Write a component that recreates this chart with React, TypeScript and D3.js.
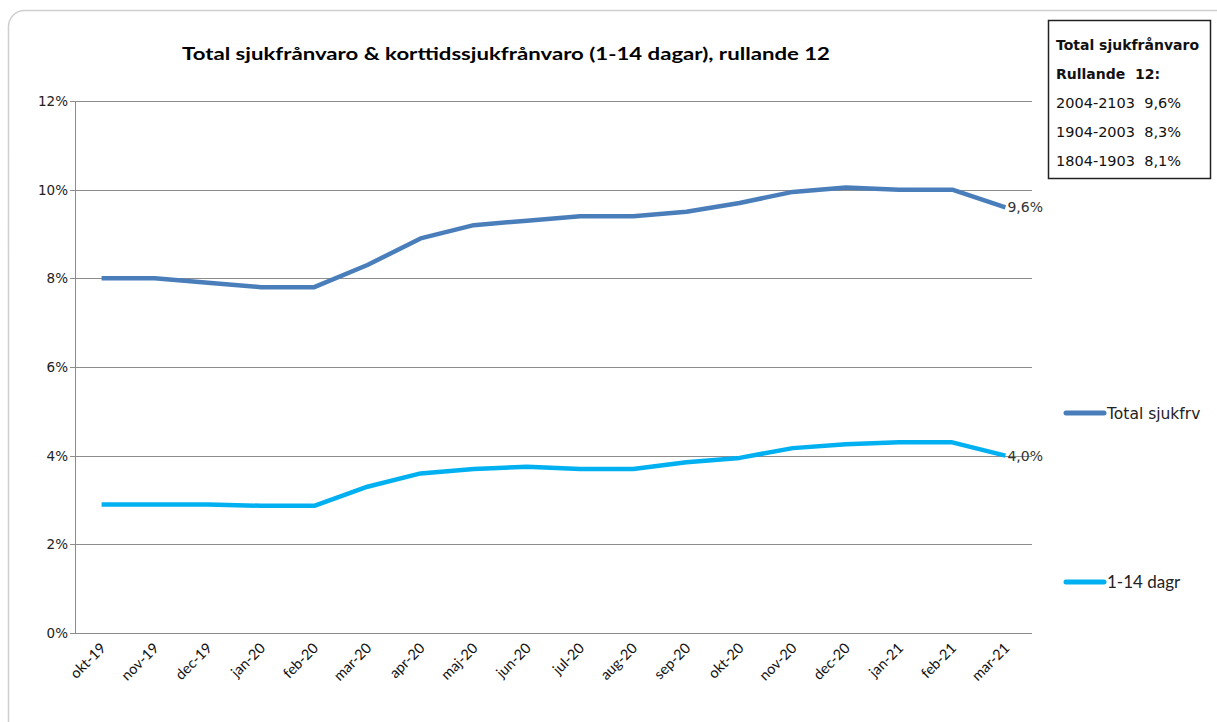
import React from "react";
import * as d3 from "d3";

const categories = ["okt-19","nov-19","dec-19","jan-20","feb-20","mar-20","apr-20","maj-20","jun-20","jul-20","aug-20","sep-20","okt-20","nov-20","dec-20","jan-21","feb-21","mar-21"];
const totalValues = [8.0,8.0,7.9,7.8,7.8,8.3,8.9,9.2,9.3,9.4,9.4,9.5,9.7,9.95,10.05,10.0,10.0,9.6];
const shortValues = [2.9,2.9,2.9,2.87,2.87,3.3,3.6,3.7,3.75,3.7,3.7,3.85,3.95,4.17,4.26,4.3,4.3,4.0];
const yTicks = [0,2,4,6,8,10,12];
const seriesNames = ["Total sjukfrv","1-14 dagr"];
const boxLines = ["Total sjukfrånvaro","Rullande  12:","2004-2103  9,6%","1904-2003  8,3%","1804-1903  8,1%"];
const title = "Total sjukfrånvaro & korttidssjukfrånvaro (1-14 dagar), rullande 12";

const W = 1217, H = 722;
const plot = { left: 75, right: 1032, top: 101, bottom: 633 };
const c1 = "#4A7EBB";
const c2 = "#00B0F0";

export default function App() {
  const x = d3.scaleBand<string>().domain(categories).range([plot.left, plot.right]);
  const y = d3.scaleLinear().domain([0, 12]).range([plot.bottom, plot.top]);
  const cx = (c: string) => (x(c) as number) + x.bandwidth() / 2;
  const line = d3.line<number>().x((_, i) => cx(categories[i])).y(v => y(v));
  const lastX = cx(categories[categories.length - 1]);
  const fmt = (v: number) => v.toFixed(1).replace(".", ",") + "%";
  const verd = "'DejaVu Sans', Verdana, sans-serif";
  const cal = "Lato, 'Open Sans', sans-serif";
  return (
    <svg width={W} height={H} style={{ position: "absolute", left: 0, top: 0, background: "#fff" }}>
      <rect x={8.5} y={10.5} width={1240} height={760} rx={16} fill="#fff" stroke="#cfcfcf" strokeWidth={1.5} />
      <text x={506} y={60} textAnchor="middle" fontFamily={cal} fontWeight="bold" fontSize={16.5} fill="#000" textLength={648} lengthAdjust="spacingAndGlyphs">{title}</text>
      {yTicks.map(t => (
        <g key={t}>
          <line x1={plot.left - 5} x2={plot.right} y1={Math.round(y(t)) + 0.5} y2={Math.round(y(t)) + 0.5} stroke="#8c8c8c" strokeWidth={1} />
          <text x={68} y={y(t) + 5} textAnchor="end" fontFamily={verd} fontSize={13.5} fill="#222">{t}%</text>
        </g>
      ))}
      <line x1={plot.left + 0.5} x2={plot.left + 0.5} y1={plot.top} y2={plot.bottom} stroke="#8c8c8c" strokeWidth={1} />
      {categories.map(c => (
        <text key={c} transform={`translate(${cx(c) + 5},${plot.bottom + 16}) rotate(-45)`} textAnchor="end" fontFamily={cal} fontSize={14.5} fill="#111">{c}</text>
      ))}
      <path d={line(totalValues) || ""} fill="none" stroke={c1} strokeWidth={4.5} strokeLinejoin="round" />
      <path d={line(shortValues) || ""} fill="none" stroke={c2} strokeWidth={4.5} strokeLinejoin="round" />
      <text x={lastX + 2} y={y(totalValues[totalValues.length - 1]) + 5} fontFamily={verd} fontSize={14} fill="#333">{fmt(totalValues[totalValues.length - 1])}</text>
      <text x={lastX + 2} y={y(shortValues[shortValues.length - 1]) + 5} fontFamily={verd} fontSize={14} fill="#333">{fmt(shortValues[shortValues.length - 1])}</text>
      <rect x={1048.5} y={20.5} width={162} height={158} fill="#fff" stroke="#222" strokeWidth={1.5} />
      {boxLines.map((s, i) => (
        <text key={i} x={1056} y={50 + i * 29} fontFamily={verd} fontSize={i < 2 ? 14 : 14.5} fontWeight={i < 2 ? "bold" : "normal"} fill="#111" style={{ whiteSpace: "pre" }}>{s}</text>
      ))}
      <line x1={1066} x2={1104} y1={413} y2={413} stroke={c1} strokeWidth={5} strokeLinecap="round" />
      <text x={1107} y={419} fontFamily={verd} fontSize={15.5} fill="#222">{seriesNames[0]}</text>
      <line x1={1066} x2={1104} y1={582} y2={582} stroke={c2} strokeWidth={5} strokeLinecap="round" />
      <text x={1107} y={588} fontFamily={cal} fontSize={17} fill="#222">{seriesNames[1]}</text>
    </svg>
  );
}
